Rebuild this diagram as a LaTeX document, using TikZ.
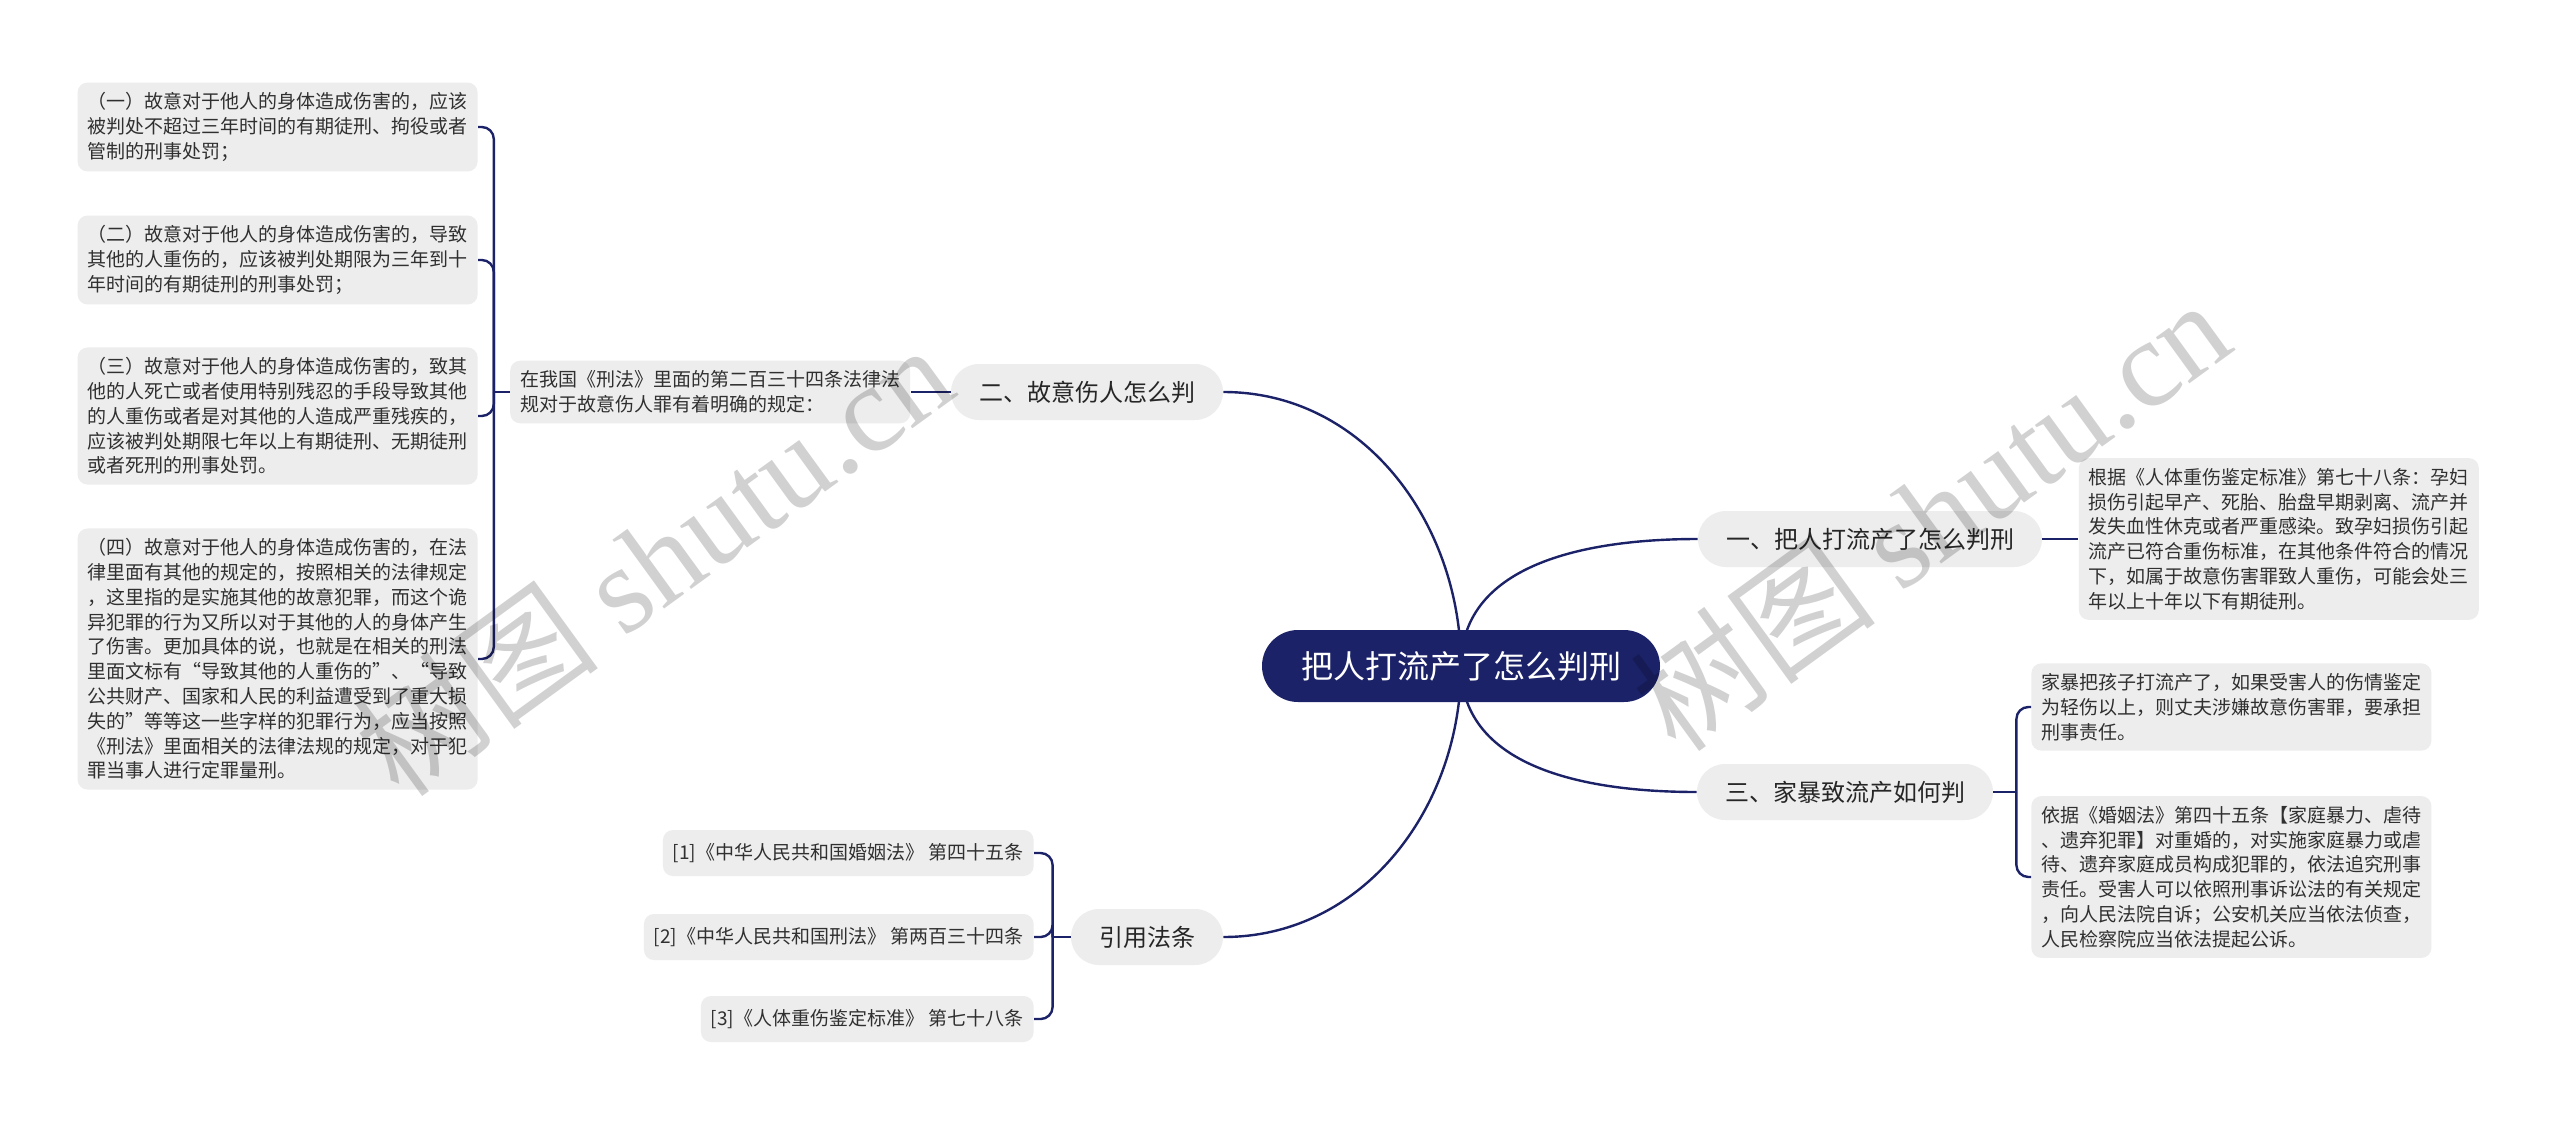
\documentclass[tikz,border=0pt]{standalone}
\usepackage{fontspec}
\setmainfont{Noto Sans CJK SC}
\newfontfamily\wmlatin{Liberation Serif}
\usetikzlibrary{positioning,backgrounds}
\definecolor{navy}{RGB}{27,34,104}
\definecolor{boxgray}{RGB}{237,237,237}
\definecolor{txtgray}{RGB}{48,48,48}

\begin{document}
\begin{tikzpicture}[
    x=0.5pt, y=-0.5pt,
    root/.style={rectangle, rounded corners=18pt, fill=navy, text=white, font=\fontsize{16pt}{19pt}\selectfont, minimum height=36pt, inner xsep=19.5pt},
    branch/.style={rectangle, rounded corners=14pt, fill=boxgray, text=black!85, font=\fontsize{12pt}{14pt}\selectfont, minimum height=28pt, inner xsep=14pt},
    note/.style={rectangle, rounded corners=5pt, fill=boxgray, text=txtgray, align=left, font=\fontsize{9.5pt}{12.4pt}\selectfont, inner xsep=5pt, inner ysep=5pt},
    cite/.style={note, minimum height=23pt},
    link/.style={draw=navy, line width=1.2pt},
    bracket/.style={link, rounded corners=6pt},
    wmark/.style={text=black, opacity=0.18, rotate=36, font=\fontsize{62pt}{62pt}\selectfont}
]
    \useasboundingbox (0,0) rectangle (2560,1124);

    % Nodes
    \node[root] (root) at (1461,666) {把人打流产了怎么判刑};
    \node[branch] (one) at (1870,539) {一、把人打流产了怎么判刑};
    \node[branch] (two) at (1087,392) {二、故意伤人怎么判};
    \node[branch] (three) at (1845,792) {三、家暴致流产如何判};
    \node[branch] (refs) at (1147,937) {引用法条};

    \node[note, right=18pt of one] (onetxt) {根据《人体重伤鉴定标准》第七十八条：孕妇\\
        损伤引起早产、死胎、胎盘早期剥离、流产并\\
        发失血性休克或者严重感染。致孕妇损伤引起\\
        流产已符合重伤标准，在其他条件符合的情况\\
        下，如属于故意伤害罪致人重伤，可能会处三\\
        年以上十年以下有期徒刑。};

    \node[note, left=20pt of two] (law) {在我国《刑法》里面的第二百三十四条法律法\\
        规对于故意伤人罪有着明确的规定：};
    \coordinate[left=8pt of law.west] (lawhub);

    \node[note, anchor=east] (harm1) at (478,127) {（一）故意对于他人的身体造成伤害的，应该\\
        被判处不超过三年时间的有期徒刑、拘役或者\\
        管制的刑事处罚；};
    \node[note, anchor=east] (harm2) at (478,260) {（二）故意对于他人的身体造成伤害的，导致\\
        其他的人重伤的，应该被判处期限为三年到十\\
        年时间的有期徒刑的刑事处罚；};
    \node[note, anchor=east] (harm3) at (478,416) {（三）故意对于他人的身体造成伤害的，致其\\
        他的人死亡或者使用特别残忍的手段导致其他\\
        的人重伤或者是对其他的人造成严重残疾的，\\
        应该被判处期限七年以上有期徒刑、无期徒刑\\
        或者死刑的刑事处罚。};
    \node[note, anchor=east] (harm4) at (478,659) {（四）故意对于他人的身体造成伤害的，在法\\
        律里面有其他的规定的，按照相关的法律规定\\
        ，这里指的是实施其他的故意犯罪，而这个诡\\
        异犯罪的行为又所以对于其他的人的身体产生\\
        了伤害。更加具体的说，也就是在相关的刑法\\
        里面文标有“导致其他的人重伤的”、“导致\\
        公共财产、国家和人民的利益遭受到了重大损\\
        失的”等等这一些字样的犯罪行为，应当按照\\
        《刑法》里面相关的法律法规的规定，对于犯\\
        罪当事人进行定罪量刑。};

    \coordinate[right=11.5pt of three.east] (threehub);
    \node[note, anchor=west] (abuse1) at (2031,707) {家暴把孩子打流产了，如果受害人的伤情鉴定\\
        为轻伤以上，则丈夫涉嫌故意伤害罪，要承担\\
        刑事责任。};
    \node[note, anchor=west] (abuse2) at (2031,877) {依据《婚姻法》第四十五条【家庭暴力、虐待\\
        、遗弃犯罪】对重婚的，对实施家庭暴力或虐\\
        待、遗弃家庭成员构成犯罪的，依法追究刑事\\
        责任。受害人可以依照刑事诉讼法的有关规定\\
        ，向人民法院自诉；公安机关应当依法侦查，\\
        人民检察院应当依法提起公诉。};

    \coordinate[left=9pt of refs.west] (refhub);
    \node[cite, anchor=east] (cite1) at (1034,853) {[1]《中华人民共和国婚姻法》 第四十五条};
    \node[cite, anchor=east] (cite2) at (1034,937) {[2]《中华人民共和国刑法》 第两百三十四条};
    \node[cite, anchor=east] (cite3) at (1034,1019) {[3]《人体重伤鉴定标准》 第七十八条};

    % Links
    \begin{scope}[on background layer]
        \fill[white] (0,0) rectangle (2560,1124);
        \draw[link] (root.center) to[out=90, in=0] (two.east);
        \draw[link] (root.center) to[out=90, in=180] (one.west);
        \draw[link] (root.center) to[out=-90, in=180] (three.west);
        \draw[link] (root.center) to[out=-90, in=0] (refs.east);
    \end{scope}

    \draw[link] (one.east) -- (onetxt.west);
    \draw[link] (two.west) -- (law.east);
    \draw[link] (law.west) -- (lawhub);
    \foreach \k in {harm1,harm2,harm3,harm4}
        \draw[bracket] (lawhub) |- (\k.east);

    \draw[link] (three.east) -- (threehub);
    \foreach \k in {abuse1,abuse2}
        \draw[bracket] (threehub) |- (\k.west);

    \draw[link] (refs.west) -- (refhub);
    \foreach \k in {cite1,cite2,cite3}
        \draw[bracket] (refhub) |- (\k.east);

    % Watermark
    \node[wmark] (wm1) at (653,559) {树图 {\wmlatin shutu.cn}};
    \node[wmark] (wm2) at (1930,514) {树图 {\wmlatin shutu.cn}};
\end{tikzpicture}
\end{document}
